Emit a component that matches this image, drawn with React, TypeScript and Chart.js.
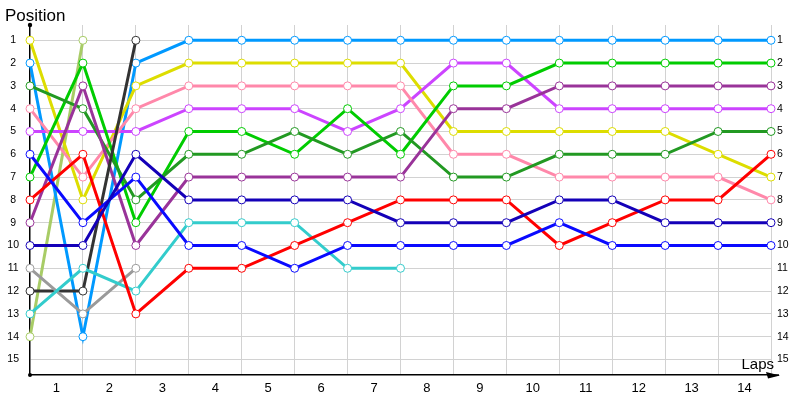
import React, { useEffect, useRef } from 'react';
import { Chart, registerables } from 'chart.js';

Chart.register(...registerables);

// lap boundaries where positions are recorded (0 = start)
const lapPoints = [0, 1, 2, 3, 4, 5, 6, 7, 8, 9, 10, 11, 12, 13, 14];
const lapLabels = ['1', '2', '3', '4', '5', '6', '7', '8', '9', '10', '11', '12', '13', '14'];
const positionTicks = [1, 2, 3, 4, 5, 6, 7, 8, 9, 10, 11, 12, 13, 14, 15];

// positions per driver
const yellowPos = [1, 8, 3, 2, 2, 2, 2, 2, 5, 5, 5, 5, 5, 6, 7];
const skyPos = [2, 14, 2, 1, 1, 1, 1, 1, 1, 1, 1, 1, 1, 1, 1];
const forestPos = [3, 4, 8, 6, 6, 5, 6, 5, 7, 7, 6, 6, 6, 5, 5];
const pinkPos = [4, 7, 4, 3, 3, 3, 3, 3, 6, 6, 7, 7, 7, 7, 8];
const violetPos = [5, 5, 5, 4, 4, 4, 5, 4, 2, 2, 4, 4, 4, 4, 4];
const bluePos = [6, 9, 7, 10, 10, 11, 10, 10, 10, 10, 9, 10, 10, 10, 10];
const greenPos = [7, 2, 9, 5, 5, 6, 4, 6, 3, 3, 2, 2, 2, 2, 2];
const redPos = [8, 6, 13, 11, 11, 10, 9, 8, 8, 8, 10, 9, 8, 8, 6];
const plumPos = [9, 3, 10, 7, 7, 7, 7, 7, 4, 4, 3, 3, 3, 3, 3];
const navyPos = [10, 10, 6, 8, 8, 8, 8, 9, 9, 9, 8, 8, 9, 9, 9];
const grayPos = [11, 13, 11];
const blackPos = [12, 12, 1];
const cyanPos = [13, 11, 12, 9, 9, 9, 11, 11];
const olivePos = [14, 1];

const series = [
  { data: navyPos, color: '#1400b8' },
  { data: bluePos, color: '#0a0aff' },
  { data: redPos, color: '#ff0000' },
  { data: cyanPos, color: '#33cccc' },
  { data: grayPos, color: '#9a9a9a' },
  { data: blackPos, color: '#333333' },
  { data: plumPos, color: '#993399' },
  { data: forestPos, color: '#229922' },
  { data: greenPos, color: '#00cc00' },
  { data: pinkPos, color: '#ff88aa' },
  { data: violetPos, color: '#cc44ff' },
  { data: yellowPos, color: '#dddd00' },
  { data: skyPos, color: '#0099ff' },
  { data: olivePos, color: '#a8cc66' },
];

const FONT = "'Liberation Sans', Arial, sans-serif";

const decorations = {
  id: 'decorations',
  afterDraw(chart: any) {
    const { ctx, chartArea } = chart;
    const left = chartArea.left;
    const bottom = chartArea.bottom;
    const right = chartArea.right;
    ctx.save();
    ctx.fillStyle = '#000';
    ctx.strokeStyle = '#000';
    // axis titles
    ctx.font = `17px ${FONT}`;
    ctx.textAlign = 'left';
    ctx.textBaseline = 'alphabetic';
    ctx.fillText('Position', 5, 21);
    ctx.font = `15px ${FONT}`;
    ctx.textAlign = 'right';
    ctx.fillText('Laps', right + 3, bottom - 6);
    // y axis end dot
    ctx.beginPath();
    ctx.arc(left, chartArea.top, 2.2, 0, Math.PI * 2);
    ctx.fill();
    ctx.beginPath();
    ctx.arc(left, bottom, 2, 0, Math.PI * 2);
    ctx.fill();
    // x axis extension and arrow
    ctx.lineWidth = 1.5;
    ctx.beginPath();
    ctx.moveTo(right, bottom);
    ctx.lineTo(right + 8, bottom);
    ctx.stroke();
    ctx.beginPath();
    ctx.moveTo(right + 9, bottom + 0.5);
    ctx.lineTo(right - 5, bottom - 3);
    ctx.lineTo(right - 3, bottom + 3.5);
    ctx.closePath();
    ctx.fill();
    ctx.restore();
  },
};

const App: React.FC = () => {
  const chartRef = useRef<HTMLCanvasElement>(null);

  useEffect(() => {
    if (!chartRef.current) return;
    const chartInstance = new Chart(chartRef.current, {
      type: 'line',
      data: {
        labels: lapPoints,
        datasets: series.map((s) => ({
          data: s.data,
          borderColor: s.color,
          borderWidth: 3,
          pointRadius: 4,
          pointBorderWidth: 1,
          pointBackgroundColor: '#ffffff',
          pointBorderColor: s.color,
          tension: 0,
          clip: false as any,
        })),
      },
      options: {
        animation: false,
        responsive: true,
        maintainAspectRatio: false,
        layout: { padding: { top: 25, left: 0, right: 0, bottom: 0 } },
        plugins: {
          legend: { display: false },
          tooltip: { enabled: false },
        },
        scales: {
          x: {
            type: 'linear',
            min: 0,
            max: 14,
            afterBuildTicks: (scale: any) => {
              const ticks = [];
              for (let v = 0; v <= 14; v += 0.5) ticks.push({ value: v });
              scale.ticks = ticks;
            },
            afterFit: (scale: any) => {
              scale.height = 25;
            },
            ticks: {
              autoSkip: false,
              maxRotation: 0,
              padding: 6,
              color: '#000',
              font: { family: FONT, size: 13 },
              callback: (value: any) =>
                Number.isInteger(value) ? '' : lapLabels[Math.floor(value)],
            },
            grid: {
              drawTicks: false,
              lineWidth: 1,
              color: (ctx: any) => {
                const v = ctx.tick ? ctx.tick.value : 0;
                return Number.isInteger(v) && v > 0 ? '#d2d2d2' : 'rgba(0,0,0,0)';
              },
            },
            border: { color: '#000', width: 1.5 },
          },
          y: {
            type: 'linear',
            position: 'left',
            reverse: true,
            min: 0.33,
            max: 15.68,
            afterBuildTicks: (scale: any) => {
              scale.ticks = positionTicks.map((v) => ({ value: v }));
            },
            afterFit: (scale: any) => {
              scale.width = 30;
            },
            ticks: {
              crossAlign: 'center',
              padding: 11,
              color: '#000',
              font: { family: FONT, size: 10.5 },
              callback: (value: any) => String(value),
            },
            grid: { drawTicks: false, color: '#d2d2d2', lineWidth: 1 },
            border: { color: '#000', width: 1.5 },
          },
          yRight: {
            type: 'linear',
            position: 'right',
            reverse: true,
            min: 0.33,
            max: 15.68,
            afterBuildTicks: (scale: any) => {
              scale.ticks = positionTicks.map((v) => ({ value: v }));
            },
            afterFit: (scale: any) => {
              scale.width = 29;
            },
            ticks: {
              crossAlign: 'near',
              padding: 6,
              color: '#000',
              font: { family: FONT, size: 10.5 },
              callback: (value: any) => String(value),
            },
            grid: { display: false, drawTicks: false },
            border: { display: false },
          },
        },
      },
      plugins: [decorations],
    });

    return () => {
      chartInstance.destroy();
    };
  }, []);

  return (
    <div style={{ position: 'absolute', left: 0, top: 0, width: 800, height: 400, background: '#fff' }}>
      <canvas ref={chartRef} />
    </div>
  );
};

export default App;
